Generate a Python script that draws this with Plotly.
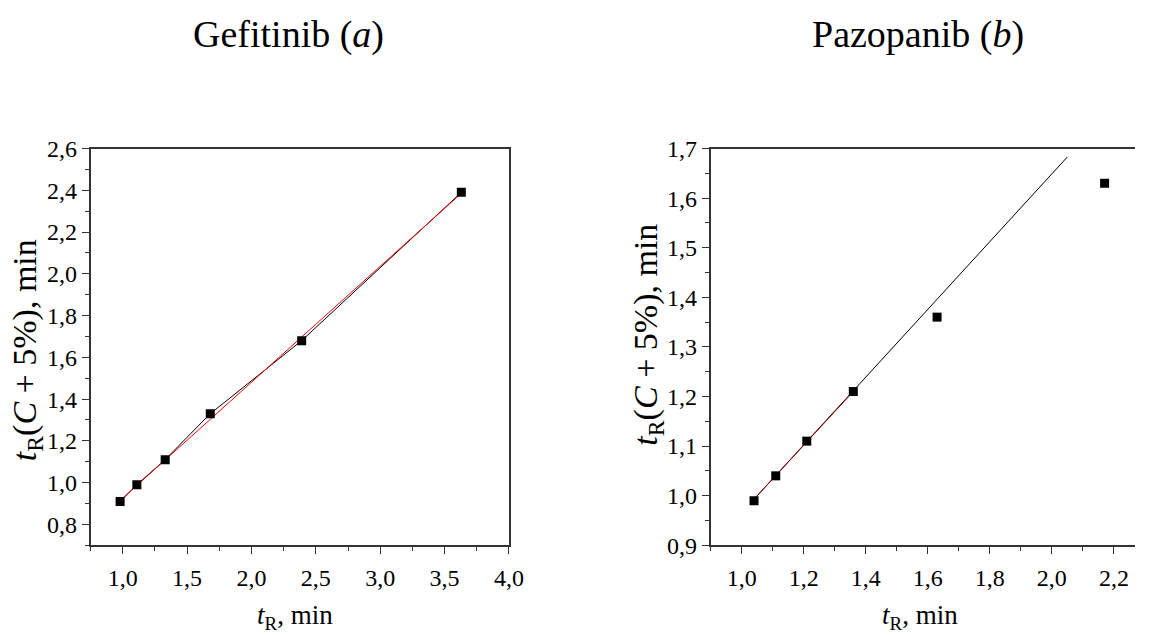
import plotly.graph_objects as go

# ---- data ----
gef_x = [0.98, 1.11, 1.33, 1.68, 2.39, 3.63]
gef_y = [0.91, 0.99, 1.11, 1.33, 1.68, 2.39]
gef_fit_x = [0.99, 3.62]
gef_fit_y = [0.92, 2.38]

paz_x = [1.04, 1.11, 1.21, 1.36, 1.63, 2.17]
paz_y = [0.99, 1.04, 1.11, 1.21, 1.36, 1.63]
paz_fit_x = [1.04, 2.05]
paz_fit_y = [0.993, 1.683]
paz_fit4_x = [1.04, 1.36]
paz_fit4_y = [0.993, 1.21]

titles = ["Gefitinib (<i>a</i>)", "Pazopanib (<i>b</i>)"]
xlab = "<i>t</i><sub>R</sub>, min"
ylab = "<i>t</i><sub>R</sub>(<i>C</i> + 5%), min"

FONT = "Liberation Serif"
W, H = 1150, 635

fig = go.Figure()

fig.add_trace(go.Scatter(x=gef_x, y=gef_y, mode="lines", line=dict(color="black", width=1),
                         xaxis="x", yaxis="y", showlegend=False))
fig.add_trace(go.Scatter(x=gef_fit_x, y=gef_fit_y, mode="lines", line=dict(color="#ff0000", width=1),
                         xaxis="x", yaxis="y", showlegend=False))
fig.add_trace(go.Scatter(x=gef_x, y=gef_y, mode="markers",
                         marker=dict(symbol="square", size=9, color="black"),
                         xaxis="x", yaxis="y", showlegend=False))

fig.add_trace(go.Scatter(x=paz_fit_x, y=paz_fit_y, mode="lines", line=dict(color="black", width=1),
                         xaxis="x2", yaxis="y2", showlegend=False))
fig.add_trace(go.Scatter(x=paz_fit4_x, y=paz_fit4_y, mode="lines", line=dict(color="#a00000", width=1),
                         xaxis="x2", yaxis="y2", showlegend=False))
fig.add_trace(go.Scatter(x=paz_x, y=paz_y, mode="markers",
                         marker=dict(symbol="square", size=9, color="black"),
                         xaxis="x2", yaxis="y2", showlegend=False))

ydom = [1 - 555 / H, 1 - 141.3 / H]

tf = dict(family=FONT, size=24, color="black")

fig.update_layout(
    width=W, height=H,
    margin=dict(l=0, r=0, t=0, b=0),
    paper_bgcolor="white", plot_bgcolor="white",
    separators=",.",
    font=dict(family=FONT, size=24, color="black"),
    xaxis=dict(domain=[91.7 / W, 515.7 / W], range=[0.75, 4.0], dtick=0.5, tick0=0,
               minor=dict(dtick=0.25), anchor="y", ticklabelstandoff=3, tickfont=tf),
    yaxis=dict(domain=ydom, range=[0.7, 2.6], dtick=0.2, tick0=0, mirror=True,
               minor=dict(dtick=0.1), anchor="x", tickfont=tf),
    xaxis2=dict(domain=[720 / W, 1.0], range=[0.9, 2.268], dtick=0.2, tick0=0,
                minor=dict(dtick=0.1), anchor="y2", ticklabelstandoff=3, tickfont=tf),
    yaxis2=dict(domain=ydom, range=[0.9, 1.7], dtick=0.1, tick0=0, mirror=False,
                minor=dict(dtick=0.05), anchor="x2", tickfont=tf),
)

fig.update_xaxes(showgrid=False, zeroline=False, showline=True, linecolor="#333", linewidth=1.5,
                 mirror=True, ticks="outside", ticklen=7, tickwidth=1.2, tickcolor="#333",
                 tickformat=".1f",
                 minor=dict(ticks="outside", ticklen=4, tickwidth=1.2, tickcolor="#333"))
fig.update_yaxes(showgrid=False, zeroline=False, showline=True, linecolor="#333", linewidth=1.5,
                 ticks="outside", ticklen=7, tickwidth=1.2, tickcolor="#333",
                 tickformat=".1f",
                 minor=dict(ticks="outside", ticklen=4, tickwidth=1.2, tickcolor="#333"))

ann = []
for cx, t in zip([292 / W, 930 / W], titles):
    ann.append(dict(text=t, x=cx, y=1 - 22 / H, xref="paper", yref="paper",
                    xanchor="center", yanchor="middle", showarrow=False,
                    font=dict(family=FONT, size=38, color="black")))
for cx in [299 / W, 932 / W]:
    ann.append(dict(text=xlab, x=cx, y=1 - 630 / H, xref="paper", yref="paper",
                    xanchor="center", yanchor="middle", showarrow=False,
                    font=dict(family=FONT, size=27, color="black")))
for cx, cy in [(27 / W, 1 - 352 / H), (657 / W, 1 - 335 / H)]:
    ann.append(dict(text=ylab, x=cx, y=cy, xref="paper", yref="paper",
                    xanchor="center", yanchor="middle", showarrow=False, textangle=-90,
                    font=dict(family=FONT, size=34, color="black")))
fig.update_layout(annotations=ann)

fig.write_html("out.html")
